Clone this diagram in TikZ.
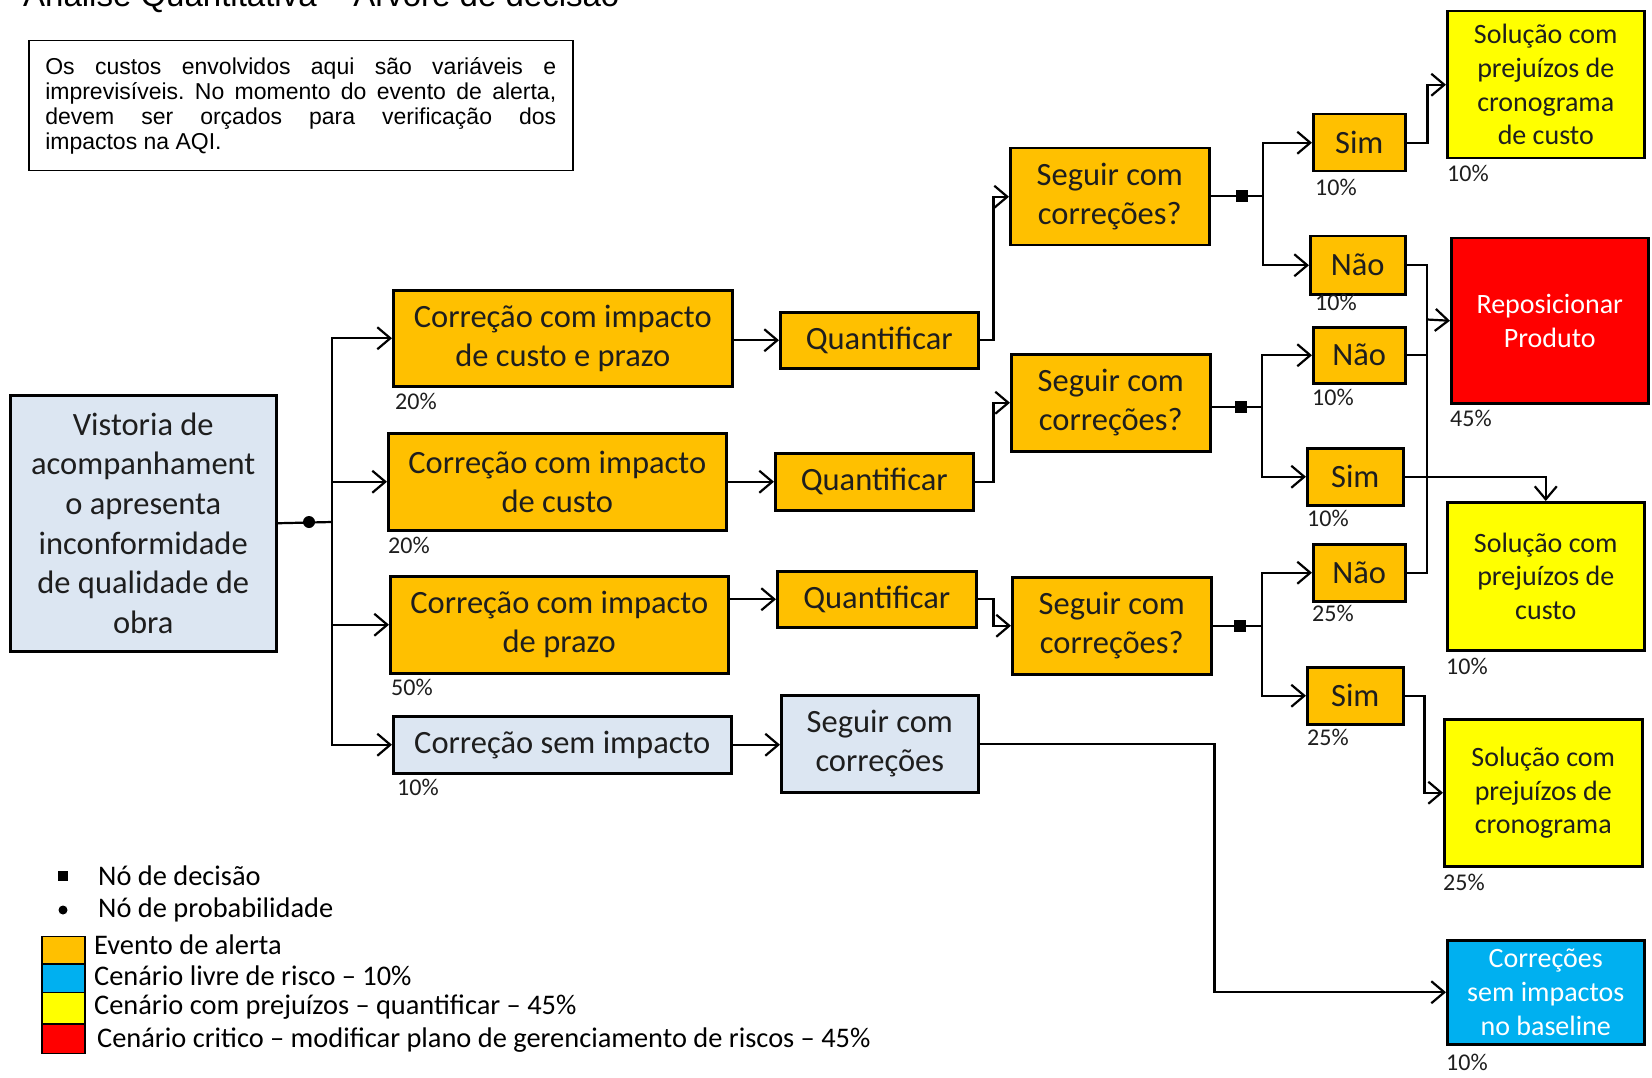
\documentclass[tikz,border=0pt]{standalone}
\usepackage{fontspec}
\setmainfont{Carlito}
\newfontfamily\arialf{Liberation Sans}
\usetikzlibrary{arrows.meta,calc}
\definecolor{orgF}{HTML}{FFC000}
\definecolor{lightB}{HTML}{DCE6F2}
\definecolor{yelF}{HTML}{FFFF00}
\definecolor{redF}{HTML}{FF0000}
\definecolor{blueF}{HTML}{00B0F0}
\definecolor{txtG}{HTML}{1E1E1E}
\newcommand\fbig{\fontsize{32.5}{39}\selectfont}
\newcommand\fvis{\fontsize{32.5}{39.7}\selectfont}
\newcommand\fout{\fontsize{28}{33.7}\selectfont}
\newcommand\fpct{\fontsize{24}{28}\selectfont}
\newcommand\fleg{\fontsize{28.4}{31}\selectfont}
\frenchspacing
\begin{document}
\begin{tikzpicture}[x=1pt,y=-1pt,
  bx/.style={draw=black, line width=2.5pt, inner sep=0pt, align=center, anchor=north west, text=txtG, font=\fbig},
  org/.style={bx, fill=orgF},
  lbx/.style={bx, fill=lightB},
  yel/.style={bx, fill=yelF, font=\fout},
  ln/.style={draw=black, line width=2.2pt},
  arr/.style={ln, -{Straight Barb[length=13pt,width=22pt]}},
  pct/.style={anchor=west, inner sep=0pt, font=\fpct, text=txtG},
  leg/.style={anchor=west, inner sep=0pt, font=\fleg, text=black},
  sw/.style={draw=black, line width=1.5pt, anchor=north west, inner sep=0pt, minimum width=43pt},
  dsq/.style={fill=black, draw=none, inner sep=0pt, minimum size=12pt}]
\useasboundingbox (0,0) rectangle (1652,1078);
\fill[white] (0,0) rectangle (1652,1078);

% title (cut by the page top, as in the reference)
\node[anchor=base west, inner sep=0pt, font=\arialf\fontsize{33}{38}\selectfont] (title) at (23,7) {Análise Quantitativa – Árvore de decisão};

% note box
\node[draw=black, line width=1.5pt, anchor=north west, minimum width=544pt, minimum height=130pt, inner sep=0pt, font=\arialf\fontsize{23}{25}\selectfont, align=left] (note) at (28,40)
 {\makebox[511pt][s]{Os custos envolvidos aqui são variáveis e}\\
  \makebox[511pt][s]{imprevisíveis. No momento do evento de alerta,}\\
  \makebox[511pt][s]{devem ser orçados para verificação dos}\\
  \makebox[511pt][l]{impactos na AQI.}};

% root
\node[lbx, font=\fvis, minimum width=266pt, minimum height=256pt] (V) at (9,394) {Vistoria de\\acompanhament\\o apresenta\\inconformidade\\de qualidade de\\obra};

% first level
\node[org, minimum width=339pt, minimum height=96pt] (A1) at (392,289) {Correção com impacto\\de custo e prazo};
\node[org, minimum width=338pt, minimum height=97pt] (A2) at (387,432) {Correção com impacto\\de custo};
\node[org, minimum width=338pt, minimum height=97pt] (A3) at (389,575) {Correção com impacto\\de prazo};
\node[lbx, minimum width=338pt, minimum height=57pt] (A4) at (392,715) {Correção sem impacto};

\node[pct] (pA1) at (395,401) {20\%};
\node[pct] (pA2) at (388,545) {20\%};
\node[pct] (pA3) at (391,687) {50\%};
\node[pct] (pA4) at (397,787) {10\%};

% quantify
\node[org, minimum width=198pt, minimum height=56pt] (Q1) at (779,311) {Quantificar};
\node[org, minimum width=198pt, minimum height=57pt] (Q2) at (774,452) {Quantificar};
\node[org, minimum width=199pt, minimum height=56pt] (Q3) at (776,570) {Quantificar};
\node[lbx, minimum width=197pt, minimum height=97pt] (L) at (780,694) {Seguir com\\correções};

% decisions
\node[org, minimum width=199pt, minimum height=97pt] (S1) at (1009,147) {Seguir com\\correções?};
\node[org, minimum width=199pt, minimum height=97pt] (S2) at (1010,353) {Seguir com\\correções?};
\node[org, minimum width=199pt, minimum height=97pt] (S3) at (1011,576) {Seguir com\\correções?};

\node[dsq] (D1) at (1242,196) {};
\node[dsq] (D2) at (1241,407) {};
\node[dsq] (D3) at (1240,626) {};
\coordinate (B1) at (1263,196);
\coordinate (B2) at (1262,407);
\coordinate (B3) at (1262,626);

\node[org, minimum width=92pt, minimum height=57pt] (Sim1) at (1312,113) {Sim};
\node[org, minimum width=95pt, minimum height=58pt] (Nao1) at (1309,235) {Não};
\node[org, minimum width=92pt, minimum height=56pt] (Nao2) at (1312,326) {Não};
\node[org, minimum width=96pt, minimum height=57pt] (Sim2) at (1306,447) {Sim};
\node[org, minimum width=92pt, minimum height=57pt] (Nao3) at (1312,543) {Não};
\node[org, minimum width=96pt, minimum height=57pt] (Sim3) at (1306,666) {Sim};

\node[pct] (pSim1) at (1315,187) {10\%};
\node[pct] (pNao1) at (1315,302) {10\%};
\node[pct] (pNao2) at (1312,397) {10\%};
\node[pct] (pSim2) at (1307,518) {10\%};
\node[pct] (pNao3) at (1312,613) {25\%};
\node[pct] (pSim3) at (1307,737) {25\%};

% outcomes
\node[yel, minimum width=197pt, minimum height=147pt] (Y1) at (1446,10) {Solução com\\prejuízos de\\cronograma\\de custo};
\node[bx, fill=redF, text=white, font=\fout, minimum width=197pt, minimum height=165pt] (R) at (1450,237) {Reposicionar\\Produto};
\node[yel, minimum width=197pt, minimum height=148pt] (Y2) at (1446,501) {Solução com\\prejuízos de\\custo};
\node[yel, minimum width=198pt, minimum height=147pt] (Y3) at (1443,718) {Solução com\\prejuízos de\\cronograma};
\node[bx, fill=blueF, text=white, font=\fout, minimum width=197pt, minimum height=104pt] (Bl) at (1446,939) {Correções\\sem impactos\\no baseline};

\node[pct] (pY1) at (1447,173) {10\%};
\node[pct] (pR) at (1450,418) {45\%};
\node[pct] (pY2) at (1446,666) {10\%};
\node[pct] (pY3) at (1443,882) {25\%};
\node[pct] (pBl) at (1446,1062) {10\%};

% connectors: root
\coordinate (Bus) at (332,522);
\draw[ln] (V.east) -- (Bus);
\fill (309,522) circle (6pt);
\draw[arr] (Bus) |- (A1.west);
\draw[arr] (Bus) |- (A2.west);
\draw[arr] (Bus) |- (A3.west);
\draw[arr] (Bus) |- (A4.west);

\draw[arr] (A1.east |- Q1.west) -- (Q1.west);
\draw[arr] (A2.east |- Q2.west) -- (Q2.west);
\draw[arr] (A3.east |- Q3.west) -- (Q3.west);
\draw[arr] (A4.east) -- (A4.east -| L.west);

\draw[arr] (Q1.east) -- ++(14,0) |- (S1.west);
\draw[arr] (Q2.east) -- ++(19,0) |- (S2.west);
\draw[arr] (Q3.east) -- ++(16,0) |- (S3.west);

\draw[ln] (S1.east |- D1) -- (B1);
\draw[ln] (S2.east |- D2) -- (B2);
\draw[ln] (S3.east |- D3) -- (B3);
\draw[arr] (B1) |- (Sim1.west);
\draw[arr] (B1) |- (Nao1.west);
\draw[arr] (B2) |- (Nao2.west);
\draw[arr] (B2) |- (Sim2.west);
\draw[arr] (B3) |- (Nao3.west);
\draw[arr] (B3) |- (Sim3.west);

\draw[arr] (Sim1.east) -- ++(21,0) |- (Y1.west);
\coordinate (Rj) at (1427,319.5);
\draw[ln] (Nao1.east) -| (Rj);
\draw[ln] (Nao2.east) -| (Rj);
\draw[ln] (Nao3.east) -| (Rj);
\draw[arr] (Rj) -- (R.west);
\draw[arr] (Sim2.east) -| (Y2.north);
\draw[arr] (Sim3.east) -- ++(20,0) |- (Y3.west);
\draw[arr] (L.east) -- ++(235,0) |- (Bl.west);

% legend
\node[dsq, minimum size=10pt] (lgD) at (63,876) {};
\node[leg] (lgDt) at (98,876) {Nó de decisão};
\node[circle, fill=black, inner sep=0pt, minimum size=9pt] (lgP) at (63,910) {};
\node[leg] (lgPt) at (98,910) {Nó de probabilidade};
\node[sw, fill=orgF, minimum height=27.5pt] (sw1) at (41,935.5) {};
\node[sw, fill=blueF, minimum height=28.5pt] (sw2) at (41,963) {};
\node[sw, fill=yelF, minimum height=31.5pt] (sw3) at (41,991.5) {};
\node[sw, fill=redF, minimum height=29.5pt] (sw4) at (41,1023) {};
\node[leg] (l1) at (94,945) {Evento de alerta};
\node[leg] (l2) at (94,975.5) {Cenário livre de risco – 10\%};
\node[leg] (l3) at (94,1007) {Cenário com prejuízos – quantificar – 45\%};
\node[leg] (l4) at (97,1040) {Cenário critico – modificar plano de gerenciamento de riscos – 45\%};
\end{tikzpicture}
\end{document}
